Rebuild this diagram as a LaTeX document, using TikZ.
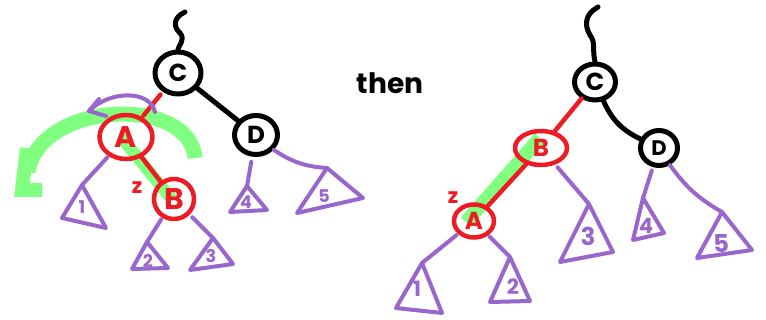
\documentclass[tikz,border=0pt]{standalone}
\usepackage{fontspec}
\setmainfont{Poppins}
\usetikzlibrary{shapes.geometric,backgrounds}
\definecolor{hred}{HTML}{ED1C24}
\definecolor{hpurp}{HTML}{9966CC}
\definecolor{hgreen}{HTML}{80FF80}
\begin{document}
\begin{tikzpicture}[x=0.02cm, y=-0.02cm, line cap=round, line join=round,
  tnode/.style={ellipse, draw, line width=0.1cm, inner sep=0pt, font=\bfseries\fontsize{14}{14}\selectfont},
  bnode/.style={tnode, draw=black, text=black},
  rnode/.style={tnode, draw=hred, text=hred, line width=0.09cm},
  bline/.style={draw=black, line width=0.1cm},
  rline/.style={draw=hred, line width=0.09cm},
  pline/.style={draw=hpurp, line width=0.08cm},
  gline/.style={draw=hgreen, line width=0.28cm},
  num/.style={text=hpurp, font=\bfseries\fontsize{10}{10}\selectfont, inner sep=0pt},
  zlab/.style={text=hred, font=\bfseries\fontsize{12}{12}\selectfont, inner sep=0pt},
]
\useasboundingbox (0,0) rectangle (766,320);

% ---------- left tree ----------
\node[bnode, minimum width=0.92cm, minimum height=0.84cm] (C1) at (178,73) {C};
\node[bnode, minimum width=0.86cm, minimum height=0.78cm] (D1) at (256,135) {D};
\node[rnode, minimum width=1.06cm, minimum height=0.88cm, font=\bfseries\fontsize{17}{17}\selectfont] (A1) at (126,137) {A};
\node[rnode, minimum width=0.80cm, minimum height=0.80cm, font=\bfseries\fontsize{17}{17}\selectfont] (B1) at (174,199) {B};
\node[zlab] (z1) at (137,188) {z};

\begin{scope}[on background layer]
  \draw[gline, line width=0.24cm] ([xshift=-0.1cm]A1.center) -- ([xshift=-0.05cm]B1.center);
  \draw[gline, line width=0.3cm] (195,158) .. controls (190,95) and (40,100) .. (28,172);
  \draw[gline] (27,148) -- (22,190) -- (42,190);
\end{scope}

\coordinate (s1) at (185,12);
\draw[bline] (s1) .. controls (172,18) and (174,28) .. (180,33) .. controls (186,40) and (178,46) .. (C1.north);
\draw[bline] (C1) -- (D1);
\draw[rline, shorten <=2pt, shorten >=1pt] (C1) -- (A1);
\draw[rline] (A1) -- (B1);

\coordinate (pa1) at (155,112);
\coordinate (pa2) at (89,111);
\draw[pline] (pa1) .. controls (150,90) and (110,90) .. (pa2);
\draw[pline] (99,99) -- (pa2) -- (106,116);

\coordinate (t1a) at (82,185);
\coordinate (t2a) at (147,242);
\coordinate (t3a) at (213,238);
\coordinate (t4a) at (247,186);
\coordinate (t5a) at (327,168);
\draw[pline] (t1a) -- (62,218) -- (106,228) -- cycle;
\draw[pline] (t2a) -- (132,269) -- (168,268) -- cycle;
\draw[pline] (t3a) -- (190,270) -- (233,264) -- cycle;
\draw[pline] (t4a) -- (230,212) -- (267,210) -- cycle;
\draw[pline] (t5a) -- (297,213) -- (363,198) -- cycle;
\node[num] (n1) at (82,207) {1};
\node[num] (n2) at (148,261) {2};
\node[num] (n3) at (211,256) {3};
\node[num] (n4) at (246,202) {4};
\node[num] (n5) at (324,196) {5};
\draw[pline, shorten <=1pt] (A1) -- (t1a);
\draw[pline, shorten <=1pt] (B1) -- (t2a);
\draw[pline, shorten <=2pt] (B1) -- (t3a);
\draw[pline, shorten <=3pt] (D1) -- (t4a);
\draw[pline] (D1) to[bend right=15] (t5a);

% ---------- then ----------
\node[font=\bfseries\fontsize{16}{16}\selectfont] (then) at (390,83) {then};

% ---------- right tree ----------
\node[bnode, minimum width=0.82cm, minimum height=0.72cm] (C2) at (595,82) {C};
\node[bnode, minimum width=0.74cm, minimum height=0.70cm, font=\bfseries\fontsize{12}{12}\selectfont] (D2) at (659,148) {D};
\node[rnode, minimum width=1.04cm, minimum height=0.68cm] (B2) at (541,148) {B};
\node[rnode, minimum width=0.80cm, minimum height=0.66cm] (A2) at (474,221) {A};
\node[zlab] (z2) at (453,198) {z};

\begin{scope}[on background layer]
  \draw[gline] (540,138) -- (466,222);
\end{scope}

\coordinate (s2) at (598,7);
\draw[bline] (s2) .. controls (585,14) and (584,25) .. (590,35) .. controls (596,43) and (592,50) .. (C2.north);
\draw[bline] (C2) to[bend right=20] (D2);
\draw[rline] (C2) -- (B2);
\draw[rline] (B2) -- (A2);

\coordinate (u1a) at (422,263);
\coordinate (u2a) at (510,257);
\coordinate (u3a) at (589,204);
\coordinate (u4a) at (643,198);
\coordinate (u5a) at (722,212);
\draw[pline] (u1a) -- (396,308) -- (442,313) -- cycle;
\draw[pline] (u2a) -- (490,302) -- (530,301) -- cycle;
\draw[pline] (u3a) -- (560,262) -- (613,252) -- cycle;
\draw[pline] (u4a) -- (633,240) -- (664,233) -- cycle;
\draw[pline] (u5a) -- (697,258) -- (752,250) -- cycle;
\node[num, font=\bfseries\fontsize{12}{12}\selectfont] (m1) at (417,289) {1};
\node[num, font=\bfseries\fontsize{12}{12}\selectfont] (m2) at (513,287) {2};
\node[num, font=\bfseries\fontsize{14}{14}\selectfont] (m3) at (588,236) {3};
\node[num, font=\bfseries\fontsize{12}{12}\selectfont] (m4) at (646,226) {4};
\node[num, font=\bfseries\fontsize{14}{14}\selectfont] (m5) at (721,244) {5};
\draw[pline, shorten <=1pt] (A2) -- (u1a);
\draw[pline, shorten <=1pt] (A2) -- (u2a);
\draw[pline, shorten <=2pt] (B2) -- (u3a);
\draw[pline, shorten <=2pt] (D2) -- (u4a);
\draw[pline] (D2) to[bend right=12] (u5a);
\end{tikzpicture}
\end{document}
